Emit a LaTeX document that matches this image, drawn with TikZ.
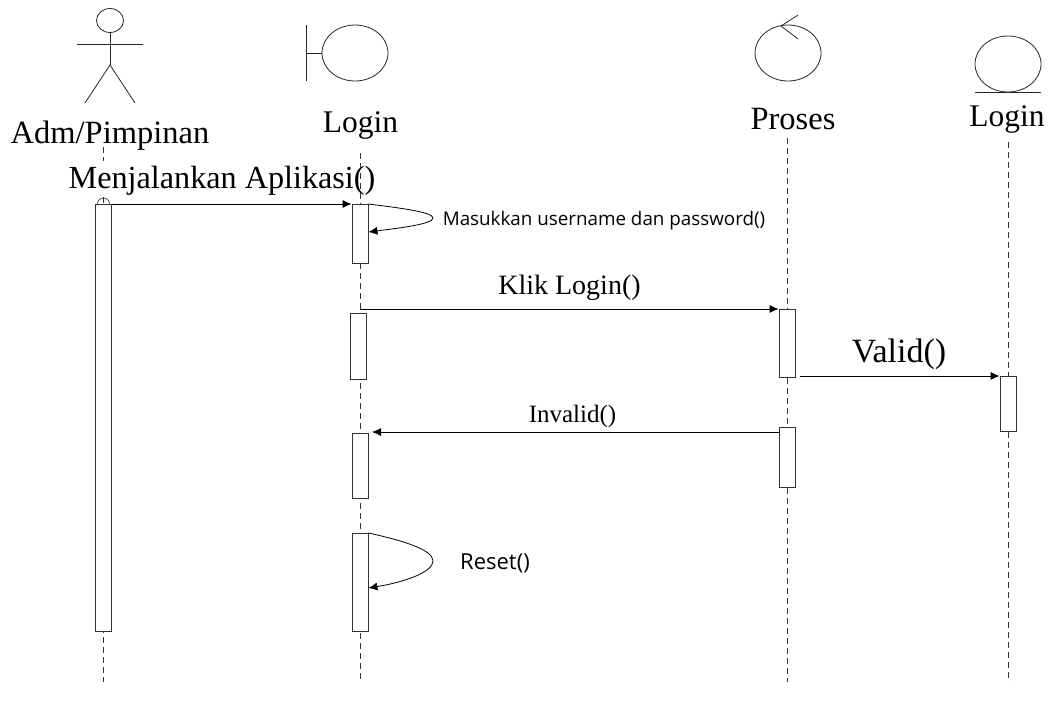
\documentclass[tikz,border=0pt]{standalone}
\usepackage{fontspec}
\setmainfont{Liberation Serif}
\newfontfamily\lblsans{Open Sans}
\usetikzlibrary{arrows.meta,shapes.geometric}
\tikzset{
  x=1pt,y=-1pt,
  shape line/.style={draw=black!85,line width=0.8pt},
  life/.style={draw=black!80,line width=0.8pt,dash pattern=on 6pt off 4pt},
  bar/.style={draw=black!80,fill=white,line width=0.8pt,rectangle,inner sep=0pt,minimum width=16pt,anchor=north},
  msg/.style={draw=black,line width=0.8pt,-{Latex[length=9pt,width=8pt]}},
  round body/.style={draw=black!85,line width=0.8pt,ellipse,inner sep=0pt,minimum width=66pt,minimum height=56pt},
  serif/.style={font=\fontsize{#1}{#1}\selectfont,inner sep=0pt},
  sans/.style={font=\lblsans\fontsize{#1}{#1}\selectfont,inner sep=0pt},
}
\begin{document}
\begin{tikzpicture}
\useasboundingbox (0,0) rectangle (1048,709);
% lifeline ends
\coordinate (a0) at (103.5,147); \coordinate (a1) at (103.5,161);
\coordinate (a2) at (103.5,197); \coordinate (a3) at (103.5,682);
\coordinate (b0) at (360,153);   \coordinate (b1) at (360,682);
\coordinate (c0) at (787.5,138); \coordinate (c1) at (787.5,682);
\coordinate (d0) at (1008,142);  \coordinate (d1) at (1008,682);
\draw[life] (a0) -- (a1);
\draw[life] (a2) -- (a3);
\draw[life] (b0) -- (b1);
\draw[life] (c0) -- (c1);
\draw[life] (d0) -- (d1);
% actor
\node[draw=black!85,line width=0.8pt,ellipse,inner sep=0pt,minimum width=27pt,minimum height=24pt] (head) at (110,20.5) {};
\coordinate (armL) at (77,44); \coordinate (armR) at (143,44);
\coordinate (hip) at (110,65); \coordinate (legL) at (85,103); \coordinate (legR) at (135,103);
\draw[shape line] (head.south) -- (hip);
\draw[shape line] (armL) -- (armR);
\draw[shape line] (legL) -- (hip) -- (legR);
% boundary
\node[round body] (bnd) at (355,53) {};
\coordinate (bt) at (306.5,25); \coordinate (bb) at (306.5,81); \coordinate (bm) at (306.5,53);
\draw[shape line] (bt) -- (bb);
\draw[shape line] (bm) -- (bnd.west);
% control
\node[round body] (ctl) at (788,53) {};
\coordinate (ct) at (798,15); \coordinate (cb) at (798,39); \coordinate (cm) at (781,26);
\draw[shape line] (ct) -- (cm) -- (cb);
% entity
\node[round body] (ent) at (1008,64) {};
\coordinate (el) at (975,92); \coordinate (er) at (1041,92);
\draw[shape line] (el) -- (er);
% small arc on the actor bar
\coordinate (arcL) at (97.5,204);
\draw[line width=0.6pt,black!80] (arcL) arc[start angle=180,end angle=0,radius=6pt];
% activations
\node[bar,minimum height=427pt] (A1) at (103.5,204) {};
\node[bar,minimum height=59pt] (B1) at (360,204) {};
\node[bar,minimum height=66pt] (B2) at (358,313) {};
\node[bar,minimum height=65pt] (B3) at (360,433) {};
\node[bar,minimum height=98pt] (B4) at (360,533) {};
\node[bar,minimum height=68pt] (C1) at (787,309) {};
\node[bar,minimum height=60pt] (C2) at (787,427) {};
\node[bar,minimum height=55pt] (D1) at (1008,376) {};
% messages
\draw[msg] (A1.north east) -- (B1.north west);
\draw[msg] (B1.north east) .. controls (400,208) and (433,212) .. (433,218) .. controls (433,224) and (400,228) .. ([yshift=-28pt]B1.north east);
\coordinate (klikS) at (360,309);
\draw[msg] (klikS) -- (C1.north west);
\coordinate (validS) at (800,376);
\draw[msg] (validS) -- (D1.north west);
\coordinate (invS) at (779,432);
\coordinate (invE) at (372,432);
\draw[msg] (invS) -- (invE);
\draw[msg] (B4.north east) .. controls (405,541) and (433,550) .. (433,561) .. controls (433,572) and (405,582) .. ([yshift=-55pt]B4.north east);
% labels
\node[serif=32.5] (lAdm) at (110,136) {Adm/Pimpinan};
\node[serif=31.5] (lB) at (360.5,125) {Login};
\node[serif=32.5] (lC) at (793,119) {Proses};
\node[serif=31.5] (lD) at (1007,119) {Login};
\node[serif=32.2] (lRun) at (222,181) {Menjalankan Aplikasi()};
\node[serif=28] (lKlik) at (569.5,288) {Klik Login()};
\node[serif=34] (lValid) at (899,354) {Valid()};
\node[serif=25] (lInv) at (572.5,416) {Invalid()};
\node[sans=18.8] (lMas) at (604,221) {Masukkan username dan password()};
\node[sans=22] (lRes) at (495,563) {Reset()};
\end{tikzpicture}
\end{document}
